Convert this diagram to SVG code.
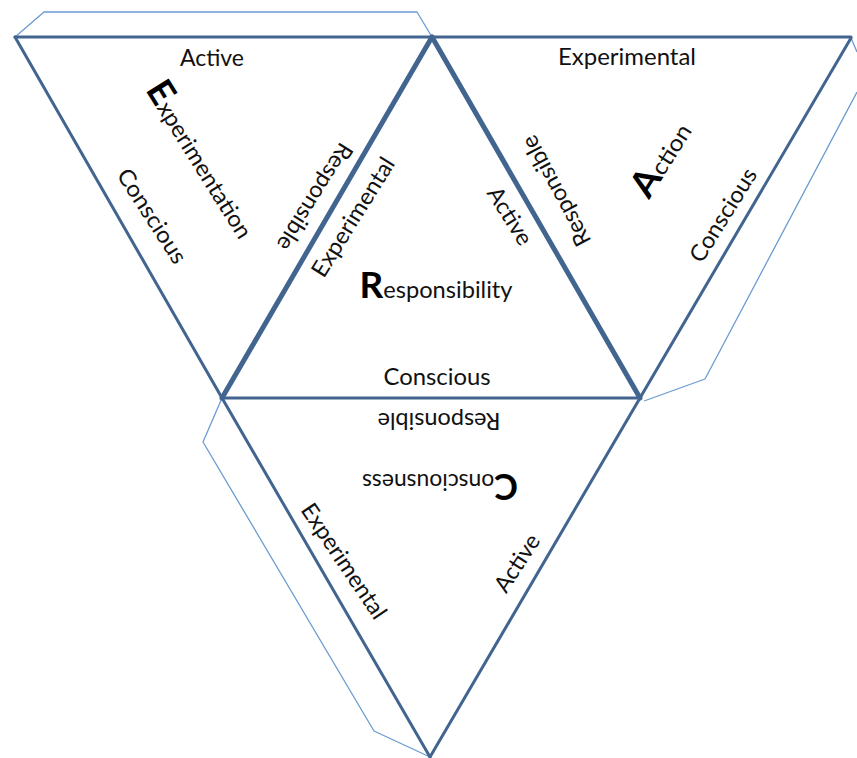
<svg xmlns="http://www.w3.org/2000/svg" width="857" height="758" viewBox="0 0 857 758">
<style>
.tab{fill:none;stroke:#6b9bd0;stroke-width:1.3;stroke-linejoin:round}
.edge{fill:none;stroke:#426590;stroke-width:3;stroke-linecap:round}
.thick{fill:none;stroke:#426590;stroke-width:5;stroke-linecap:round}
text{font-family:Lato,"Open Sans","Liberation Sans",sans-serif;font-size:23px;fill:#111;text-anchor:middle}
.big{font-size:36px;font-weight:700;fill:#000}
</style>
<rect width="857" height="758" fill="#fff"/>
<g id="connectors">
<path class="tab" d="M15 37L44 12H417L432 37"/>
<path class="tab" d="M851 38L857 52M857 92L705 379L644 401"/>
<path class="tab" d="M222 398L203 442L374 731L430 757"/>
<path class="edge" d="M15 37H851"/>
<path class="edge" d="M15 37L222 398"/>
<path class="edge" d="M851 38L640 398"/>
<path class="edge" d="M222 398H640"/>
<path class="edge" d="M222 398L430 757"/>
<path class="edge" d="M640 398L430 757"/>
<path class="thick" d="M432 37L222 398"/>
<path class="thick" d="M432 37L640 398"/>
</g>
<g id="node-experimentation">
<text transform="translate(212 66)" textLength="64" lengthAdjust="spacingAndGlyphs">Active</text>
<text transform="translate(199 161) rotate(58)" y="8" textLength="178" lengthAdjust="spacingAndGlyphs"><tspan class="big">E</tspan>xperimentation</text>
<text transform="translate(152 216) rotate(57)" y="8" textLength="108" lengthAdjust="spacingAndGlyphs">Conscious</text>
<text transform="translate(315 197) rotate(122)" y="8" textLength="122" lengthAdjust="spacingAndGlyphs">Responsible</text>
</g>
<g id="node-responsibility">
<text transform="translate(353 217) rotate(-58)" y="8" textLength="136" lengthAdjust="spacingAndGlyphs">Experimental</text>
<text transform="translate(510 216) rotate(58)" y="8" textLength="64" lengthAdjust="spacingAndGlyphs">Active</text>
<text x="436" y="298" textLength="153" lengthAdjust="spacingAndGlyphs"><tspan class="big">R</tspan>esponsibility</text>
<text x="437" y="385" textLength="107" lengthAdjust="spacingAndGlyphs">Conscious</text>
</g>
<g id="node-action">
<text x="627" y="65" textLength="138" lengthAdjust="spacingAndGlyphs">Experimental</text>
<text transform="translate(556 191) rotate(-118)" y="8" textLength="122" lengthAdjust="spacingAndGlyphs">Responsible</text>
<text transform="translate(664 161) rotate(-58)" y="8" textLength="82" lengthAdjust="spacingAndGlyphs"><tspan class="big">A</tspan>ction</text>
<text transform="translate(723 215) rotate(-58)" y="8" textLength="106" lengthAdjust="spacingAndGlyphs">Conscious</text>
</g>
<g id="node-consciousness">
<text transform="translate(439 421) rotate(180)" y="8" textLength="123" lengthAdjust="spacingAndGlyphs">Responsible</text>
<text transform="translate(440 482) rotate(180)" y="8" textLength="156" lengthAdjust="spacingAndGlyphs"><tspan class="big">C</tspan>onsciousness</text>
<text transform="translate(344 561) rotate(56)" y="8" textLength="134" lengthAdjust="spacingAndGlyphs">Experimental</text>
<text transform="translate(517 563) rotate(-57)" y="8" textLength="64" lengthAdjust="spacingAndGlyphs">Active</text>
</g>
</svg>
